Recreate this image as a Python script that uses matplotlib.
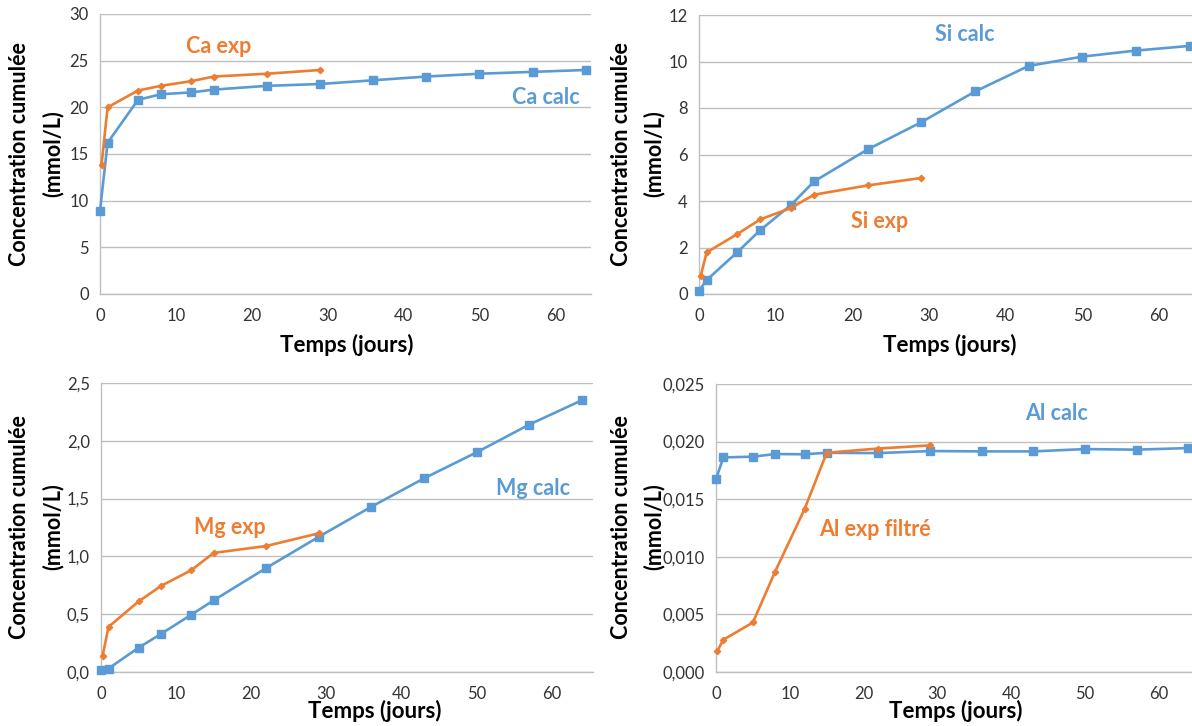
import numpy as np
import matplotlib
matplotlib.use("Agg")
import matplotlib.pyplot as plt

matplotlib.rcParams['font.family'] = ['Lato', 'DejaVu Sans']

BLUE = "#5B9BD5"
ORANGE = "#ED7D31"
GRID = "#BFBFBF"
TICKC = "#333333"

# time points (days)
t_calc = [0, 1, 5, 8, 12, 15, 22, 29, 36, 43, 50, 57, 64]
t_exp = [0.2, 1, 5, 8, 12, 15, 22, 29]

ca_calc = [8.9, 16.2, 20.8, 21.4, 21.6, 21.9, 22.3, 22.5, 22.9, 23.3, 23.6, 23.8, 24.0]
ca_exp = [13.8, 20.0, 21.8, 22.3, 22.8, 23.3, 23.6, 24.0]

si_calc = [0.14, 0.6, 1.8, 2.75, 3.83, 4.84, 6.22, 7.39, 8.71, 9.81, 10.21, 10.47, 10.67]
si_exp = [0.76, 1.79, 2.58, 3.21, 3.7, 4.27, 4.67, 4.99]

mg_calc = [0.014, 0.03, 0.21, 0.33, 0.495, 0.62, 0.90, 1.17, 1.43, 1.675, 1.90, 2.14, 2.35]
mg_exp = [0.135, 0.39, 0.61, 0.745, 0.88, 1.03, 1.09, 1.20]

al_calc = [0.01674, 0.01863, 0.01869, 0.01892, 0.0189, 0.01903, 0.0190, 0.01918,
           0.01915, 0.01915, 0.01935, 0.0193, 0.01944]
al_exp = [0.00185, 0.0028, 0.0043, 0.0087, 0.01414, 0.01903, 0.0194, 0.01967]

x_ticks = [0, 10, 20, 30, 40, 50, 60]
ca_yticks = [0, 5, 10, 15, 20, 25, 30]
si_yticks = [0, 2, 4, 6, 8, 10, 12]
mg_yticks = [0, 0.5, 1.0, 1.5, 2.0, 2.5]
mg_ylabels = ["0,0", "0,5", "1,0", "1,5", "2,0", "2,5"]
al_yticks = [0, 0.005, 0.010, 0.015, 0.020, 0.025]
al_ylabels = ["0,000", "0,005", "0,010", "0,015", "0,020", "0,025"]

W, H = 1192, 726
fig = plt.figure(figsize=(W / 100, H / 100), dpi=100)


def px_axes(l, r, t, b):
    return fig.add_axes([l / W, 1 - b / H, (r - l) / W, (b - t) / H])


def panel(ax, calc, exp, yticks, ylabels, xmax, labels):
    ax.plot(t_calc, calc, color=BLUE, lw=1.9, marker="s", ms=5.5, clip_on=False, zorder=3)
    ax.plot(t_exp, exp, color=ORANGE, lw=1.9, marker="D", ms=3.2, clip_on=False, zorder=4)
    ax.set_xlim(0, xmax)
    ax.set_ylim(yticks[0], yticks[-1])
    ax.set_xticks(x_ticks)
    ax.set_yticks(yticks)
    if ylabels is not None:
        ax.set_yticklabels(ylabels)
    ax.grid(axis="y", color=GRID, lw=1)
    ax.set_axisbelow(True)
    for s in ["top", "right"]:
        ax.spines[s].set_visible(False)
    for s in ["left", "bottom"]:
        ax.spines[s].set_color(GRID)
        ax.spines[s].set_linewidth(1)
    ax.tick_params(length=0, labelsize=12, colors=TICKC)
    ax.tick_params(axis="x", pad=10)
    ax.tick_params(axis="y", pad=8)
    for txt, x, y, c in labels:
        ax.text(x, y, txt, color=c, fontsize=15.5, fontweight="bold", ha="center", va="center")


ax1 = px_axes(100, 591, 14, 294)
panel(ax1, ca_calc, ca_exp, ca_yticks, None, 64.7,
      [("Ca exp", 15.6, 26.5, ORANGE), ("Ca calc", 58.7, 21.1, BLUE)])

ax2 = px_axes(699, 1192, 15, 294)
panel(ax2, si_calc, si_exp, si_yticks, None, 64.3,
      [("Si calc", 34.7, 11.18, BLUE), ("Si exp", 23.6, 3.1, ORANGE)])

ax3 = px_axes(101, 593, 383, 672)
panel(ax3, mg_calc, mg_exp, mg_yticks, mg_ylabels, 65.5,
      [("Mg calc", 57.5, 1.59, BLUE), ("Mg exp", 17.2, 1.25, ORANGE)])

ax4 = px_axes(716, 1192, 384, 672)
panel(ax4, al_calc, al_exp, al_yticks, al_ylabels, 64.5,
      [("Al calc", 46.2, 0.02248, BLUE), ("Al exp filtré", 21.5, 0.01233, ORANGE)])

# axis titles
for cx, cy in [(20, 154), (20, 527), (621, 154), (621, 527)]:
    fig.text(cx / W, 1 - cy / H, "Concentration cumulée", rotation=90, ha="center", va="center",
             fontsize=15.5, fontweight="bold", color="black")
    fig.text((cx + 33) / W, 1 - cy / H, "(mmol/L)", rotation=90, ha="center", va="center",
             fontsize=15.5, fontweight="bold", color="black")

for cx, cy in [(347, 345), (950, 345), (375, 711), (956, 711)]:
    fig.text(cx / W, 1 - cy / H, "Temps (jours)", ha="center", va="center",
             fontsize=16, fontweight="bold", color="black")

plt.savefig("out.png", dpi=100)
